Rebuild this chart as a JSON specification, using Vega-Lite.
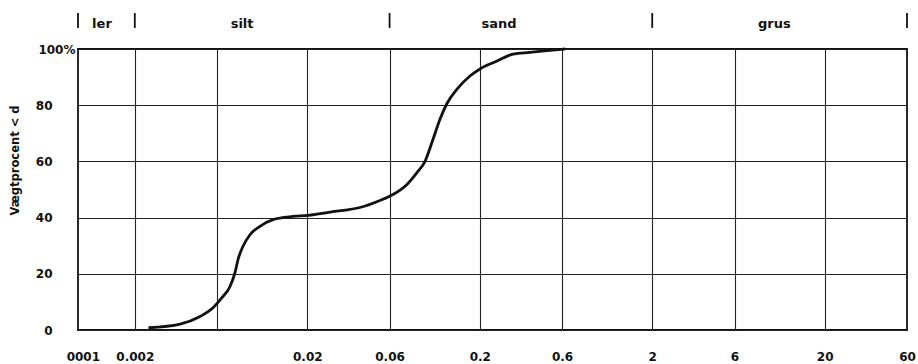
{
  "$schema": "https://vega.github.io/schema/vega-lite/v6.json",
  "width": 829,
  "height": 281,
  "autosize": {"type": "none"},
  "padding": {"left": 78, "top": 49, "right": 11, "bottom": 34},
  "background": "#ffffff",
  "config": {
    "font": "DejaVu Sans",
    "view": {"stroke": "#111111", "strokeWidth": 1.8}
  },
  "datasets": {
    "curve": [
      {"size": 0.0024, "pct": 0.8},
      {"size": 0.00366, "pct": 2.1},
      {"size": 0.00478, "pct": 4.8},
      {"size": 0.00568, "pct": 7.9},
      {"size": 0.00638, "pct": 11.4},
      {"size": 0.00713, "pct": 15.5},
      {"size": 0.00762, "pct": 20.4},
      {"size": 0.00793, "pct": 25},
      {"size": 0.00848, "pct": 29.8},
      {"size": 0.00931, "pct": 33.9},
      {"size": 0.01064, "pct": 36.9},
      {"size": 0.01266, "pct": 39.3},
      {"size": 0.01654, "pct": 40.4},
      {"size": 0.0202, "pct": 40.8},
      {"size": 0.0282, "pct": 42.1},
      {"size": 0.0404, "pct": 43.6},
      {"size": 0.0528, "pct": 46.1},
      {"size": 0.0628, "pct": 48.2},
      {"size": 0.0757, "pct": 51.8},
      {"size": 0.0865, "pct": 56},
      {"size": 0.0963, "pct": 60},
      {"size": 0.1072, "pct": 67.9},
      {"size": 0.1176, "pct": 75},
      {"size": 0.1291, "pct": 80.6},
      {"size": 0.1476, "pct": 85.7},
      {"size": 0.1755, "pct": 90.4},
      {"size": 0.2006, "pct": 92.9},
      {"size": 0.2518, "pct": 95.7},
      {"size": 0.3117, "pct": 98.2},
      {"size": 0.391, "pct": 98.8},
      {"size": 0.4906, "pct": 99.4},
      {"size": 0.624, "pct": 100}
    ],
    "bounds": [
      {"size": 0.000937, "lo": 107.5, "hi": 112.8},
      {"size": 0.002, "lo": 107.5, "hi": 112.8},
      {"size": 0.06, "lo": 107.5, "hi": 112.8},
      {"size": 2, "lo": 107.5, "hi": 112.8},
      {"size": 60, "lo": 107.5, "hi": 112.8}
    ],
    "classes": [
      {"size": 0.00129, "pos": 108.9, "name": "ler"},
      {"size": 0.00838, "pos": 108.9, "name": "silt"},
      {"size": 0.259, "pos": 108.9, "name": "sand"},
      {"size": 10.2, "pos": 108.9, "name": "grus"}
    ]
  },
  "encoding": {
    "x": {
      "field": "size",
      "type": "quantitative",
      "scale": {"type": "log", "domain": [0.000937, 60], "nice": false},
      "axis": {
        "title": null,
        "values": [0.001, 0.002, 0.006, 0.02, 0.06, 0.2, 0.6, 2, 6, 20, 60],
        "labelExpr": "datum.value < 0.0015 ? '0001' : datum.value < 0.003 ? '0.002' : datum.value < 0.01 ? '' : datum.value < 0.03 ? '0.02' : datum.value < 0.1 ? '0.06' : datum.value < 0.3 ? '0.2' : datum.value < 1 ? '0.6' : datum.value < 3 ? '2' : datum.value < 10 ? '6' : datum.value < 30 ? '20' : '60'",
        "labelFontSize": 12,
        "labelFontWeight": "bold",
        "labelColor": "#111111",
        "labelPadding": 21,
        "labelFlush": false,
        "labelOverlap": false,
        "ticks": false,
        "domain": false,
        "grid": true,
        "gridColor": "#222222",
        "gridWidth": 1.1,
        "gridOpacity": {"condition": {"test": "datum.value < 0.0015 || datum.value > 50", "value": 0}, "value": 1}
      }
    }
  },
  "layer": [
    {
      "data": {"name": "curve"},
      "mark": {"type": "line", "interpolate": "monotone", "color": "#111111", "strokeWidth": 2.8},
      "encoding": {
        "y": {
          "field": "pct",
          "type": "quantitative",
          "scale": {"domain": [0, 100], "nice": false},
          "axis": {
            "title": "Vægtprocent < d",
            "titleFontSize": 11.5,
            "titleFontWeight": "bold",
            "titleColor": "#111111",
            "titleAngle": 270,
            "titleX": -63,
            "titleY": 111,
            "titleAlign": "center",
            "titleBaseline": "middle",
            "values": [0, 20, 40, 60, 80, 100],
            "labelExpr": "datum.value == 100 ? '100%' : datum.label",
            "labelFontSize": 12,
            "labelFontWeight": "bold",
            "labelColor": "#111111",
            "labelAlign": "right",
            "labelBaseline": "middle",
            "labelPadding": {"condition": {"test": "datum.value == 100", "value": 3}, "value": 26},
            "ticks": false,
            "domain": false,
            "grid": true,
            "gridColor": "#222222",
            "gridWidth": 1.1
          }
        }
      }
    },
    {
      "data": {"name": "bounds"},
      "mark": {"type": "rule", "color": "#111111", "strokeWidth": 1.8, "clip": false},
      "encoding": {
        "y": {"field": "lo", "type": "quantitative"},
        "y2": {"field": "hi"}
      }
    },
    {
      "data": {"name": "classes"},
      "mark": {"type": "text", "fontSize": 13, "fontWeight": "bold", "color": "#111111", "align": "center", "baseline": "middle", "clip": false},
      "encoding": {
        "y": {"field": "pos", "type": "quantitative"},
        "text": {"field": "name"}
      }
    }
  ]
}
